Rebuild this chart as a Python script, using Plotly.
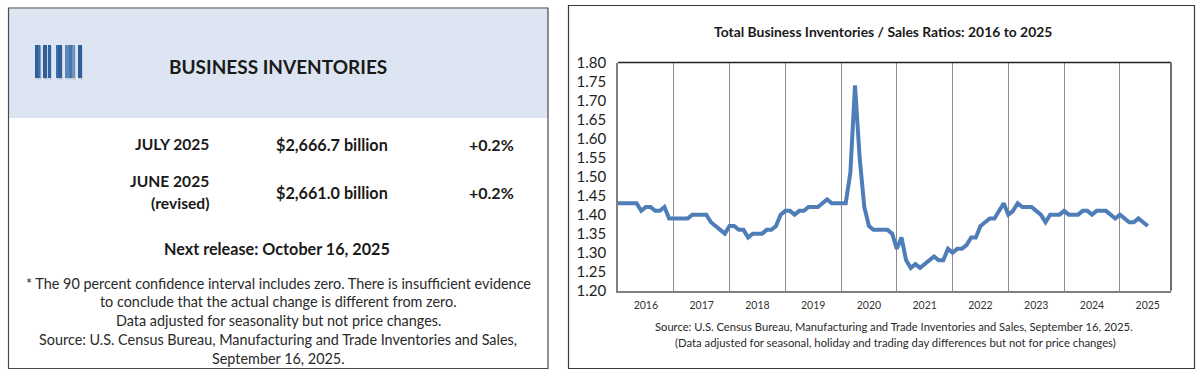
import plotly.graph_objects as go

# --- data (monthly ratio, Jan 2016 .. Jul 2025)
years = [2016, 2017, 2018, 2019, 2020, 2021, 2022, 2023, 2024, 2025]
r2016 = [1.43, 1.43, 1.43, 1.43, 1.43, 1.41, 1.42, 1.42, 1.41, 1.41, 1.42, 1.39]
r2017 = [1.39, 1.39, 1.39, 1.39, 1.40, 1.40, 1.40, 1.40, 1.38, 1.37, 1.36, 1.35]
r2018 = [1.37, 1.37, 1.36, 1.36, 1.34, 1.35, 1.35, 1.35, 1.36, 1.36, 1.37, 1.40]
r2019 = [1.41, 1.41, 1.40, 1.41, 1.41, 1.42, 1.42, 1.42, 1.43, 1.44, 1.43, 1.43]
r2020 = [1.43, 1.43, 1.51, 1.74, 1.55, 1.42, 1.37, 1.36, 1.36, 1.36, 1.36, 1.35]
r2021 = [1.31, 1.34, 1.28, 1.26, 1.27, 1.26, 1.27, 1.28, 1.29, 1.28, 1.28, 1.31]
r2022 = [1.30, 1.31, 1.31, 1.32, 1.34, 1.34, 1.37, 1.38, 1.39, 1.39, 1.41, 1.43]
r2023 = [1.40, 1.41, 1.43, 1.42, 1.42, 1.42, 1.41, 1.40, 1.38, 1.40, 1.40, 1.40]
r2024 = [1.41, 1.40, 1.40, 1.40, 1.41, 1.41, 1.40, 1.41, 1.41, 1.41, 1.40, 1.39]
r2025 = [1.40, 1.39, 1.38, 1.38, 1.39, 1.38, 1.37]
ratios = r2016 + r2017 + r2018 + r2019 + r2020 + r2021 + r2022 + r2023 + r2024 + r2025
months = list(range(len(ratios)))
year_centres = [12 * i + 6 for i in range(len(years))]
year_starts = [12 * i for i in range(1, len(years))]
y_ticks = [1.20, 1.25, 1.30, 1.35, 1.40, 1.45, 1.50, 1.55, 1.60, 1.65, 1.70, 1.75, 1.80]

title = "Total Business Inventories / Sales Ratios: 2016 to 2025"
source_lines = ["Source: U.S. Census Bureau, Manufacturing and Trade Inventories and Sales, September 16, 2025.",
                "(Data adjusted for seasonal, holiday and trading day differences but not for price changes)"]
note_lines = ["* The 90 percent confidence interval includes zero. There is insufficient evidence",
              "to conclude that the actual change is different from zero.",
              "Data adjusted for seasonality but not price changes.",
              "Source: U.S. Census Bureau, Manufacturing and Trade Inventories and Sales,",
              "September 16, 2025."]

W, H = 1200, 377
FONT = "Lato"
INK = "#1a1a1a"
def X(p): return p / W
def Y(p): return 1 - p / H

fig = go.Figure()
fig.add_trace(go.Scatter(x=months, y=ratios, mode="lines",
                         line=dict(color="#4F7DB8", width=4, shape="linear"),
                         hoverinfo="skip", showlegend=False))

shapes = []
def rect(x0, y0, x1, y1, fill="rgba(0,0,0,0)", line=None, lw=1, layer="below"):
    shapes.append(dict(type="rect", xref="paper", yref="paper", x0=X(x0), x1=X(x1), y0=Y(y0), y1=Y(y1),
                       fillcolor=fill, line=dict(color=line or "rgba(0,0,0,0)", width=lw if line else 0), layer=layer))

rect(8.5, 8.5, 548, 118, fill="#DCE5F1")
rect(8.5, 8, 548, 368.5, line="#4a4a4a", lw=1.2)
rect(568.5, 5.5, 1194.5, 368.5, line="#3a3a3a", lw=1.2)
# barcode icon
bars = [(35, 38, "#2F5F9B"), (38, 40.5, "#3F6FA8"), (43, 47, "#2F5F9B"), (48, 51, "#33639F"),
        (56, 58, "#3F6FA8"), (58, 62, "#2F5F9B"), (65, 69, "#5C86B8"), (69, 72, "#4A76AD"),
        (72, 75, "#6C93C0"), (78, 82, "#2F5F9B")]
for a, b, c in bars:
    rect(a + 0.8, 46.5, b + 0.8, 79.5, fill="#c2cad6")
for a, b, c in bars:
    rect(a, 45, b, 78, fill=c)

ann = []
def text(x, y, s, size, bold=False, anchor="center", color=INK):
    ann.append(dict(xref="paper", yref="paper", x=X(x), y=Y(y), text=f"<b>{s}</b>" if bold else s,
                    showarrow=False, xanchor=anchor, yanchor="middle",
                    font=dict(family=FONT, size=size, color=color)))

text(278, 66, "BUSINESS INVENTORIES", 19, True)
text(211, 144, "JULY 2025", 15.6, True, "right")
text(211, 181, "JUNE 2025", 15.6, True, "right")
text(211, 203, "(revised)", 15.6, True, "right")
text(332, 144, "$2,666.7 billion", 16.2, True)
text(332, 192, "$2,661.0 billion", 16.2, True)
text(492, 144, "+0.2%", 16, True)
text(492, 192, "+0.2%", 16, True)
text(277, 249, "Next release: October 16, 2025", 16.2, True)
for i, s in enumerate(note_lines):
    text(278, 283 + i * 18.9, s, 14.4, color="#2a2a2a")
text(883, 32, title, 13.9, True)
text(894, 326, source_lines[0], 11.2, color="#2a2a2a")
text(895, 342, source_lines[1], 11.3, color="#2a2a2a")

fig.update_layout(
    width=W, height=H, autosize=False, margin=dict(l=0, r=0, t=0, b=0),
    paper_bgcolor="white", plot_bgcolor="white", showlegend=False,
    shapes=shapes, annotations=ann,
    xaxis=dict(domain=[X(618), X(1171)], range=[0, 119], tickmode="array", automargin=False,
               tickvals=year_centres, ticktext=[str(y) for y in years],
               ticks="", showgrid=False, zeroline=False, showline=True, linecolor="#7f7f7f", linewidth=1.5,
               mirror=False, tickfont=dict(family=FONT, size=10.5, color="#333333"), ticklabelstandoff=4,
               minor=dict(tickmode="array", tickvals=year_starts, showgrid=True, gridcolor="#8c8c8c",
                          gridwidth=1.2, ticks="")),
    yaxis=dict(domain=[Y(290.7), Y(62.5)], range=[1.20, 1.80], tickmode="array", tickvals=y_ticks, automargin=False,
               tickformat=".2f", ticks="", showgrid=False, zeroline=False, showline=True,
               linecolor="#7f7f7f", linewidth=1.5, ticklabelstandoff=7,
               tickfont=dict(family=FONT, size=15, color="#222222")),
)
# top and right frame of the plot area
fig.add_shape(type="line", xref="x domain", yref="y domain", x0=0, x1=1, y0=1, y1=1,
              line=dict(color="#222222", width=1.3))
fig.add_shape(type="line", xref="x domain", yref="y domain", x0=1, x1=1, y0=0, y1=1,
              line=dict(color="#6f6f6f", width=2))

fig.write_html("out.html", config=dict(displayModeBar=False),
               post_script="document.body.style.margin='0';document.body.style.overflow='hidden';")
